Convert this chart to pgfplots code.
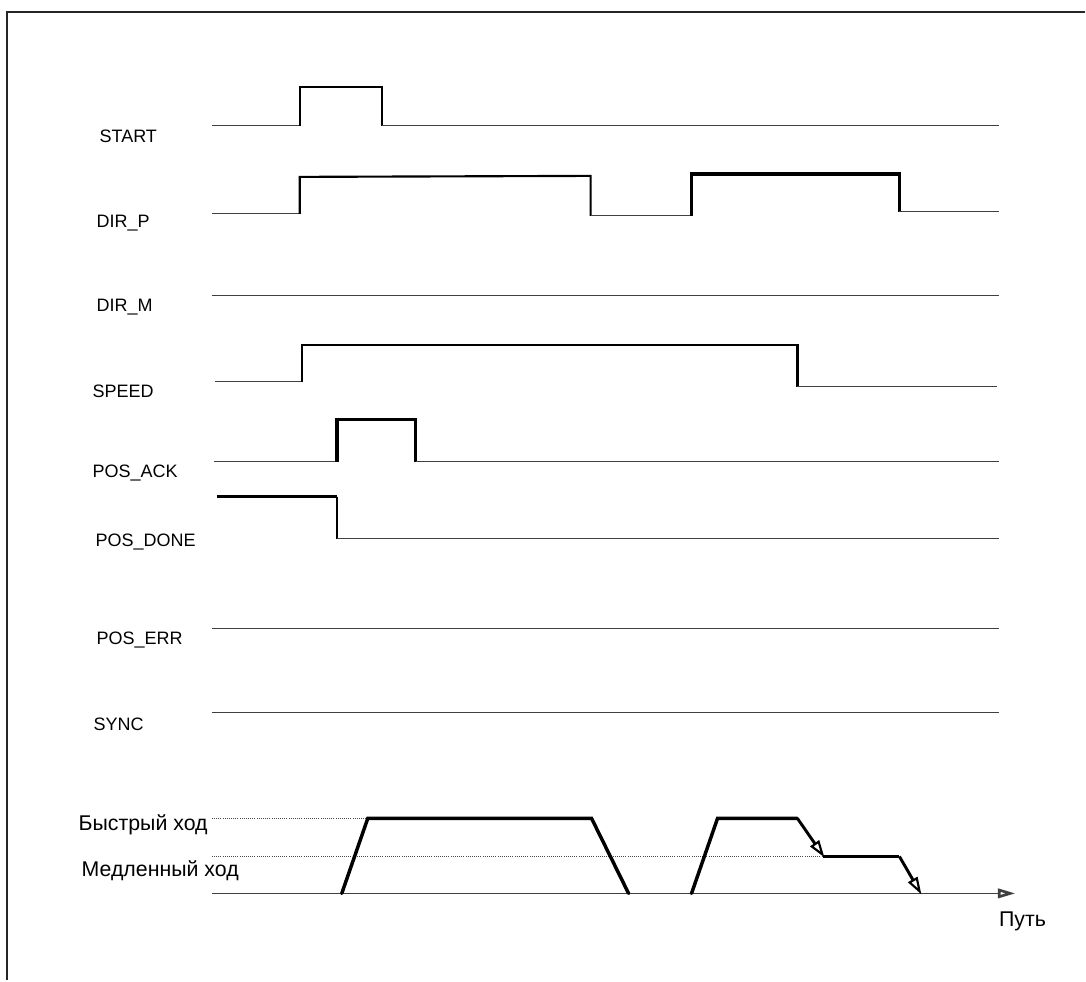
\documentclass[border=0pt]{standalone}
\usepackage{fontspec}
\setmainfont{Liberation Sans}
\usepackage{pgfplots}
\pgfplotsset{compat=1.18}
\usetikzlibrary{arrows.meta}
\tikzset{
  sig/.style={black!75, line width=0.8pt},
  sigmed/.style={black, line width=1.6pt},
  sigfat/.style={black, line width=2.6pt},
  lbl/.style={anchor=west, font=\fontsize{13.5pt}{16pt}\selectfont},
  lblbig/.style={anchor=west, font=\fontsize{16pt}{19pt}\selectfont},
}
\begin{document}
\begin{tikzpicture}
\begin{axis}[
    hide axis,
    scale only axis,
    width=814.5pt, height=735.75pt,
    xmin=0, xmax=1086, ymin=0, ymax=981,
    y dir=reverse,
    clip=false,
  ]
  \path (rel axis cs:0,0) rectangle (rel axis cs:1,1);
  % frame
  \addplot[black!85, line width=1.1pt] coordinates {(1086,12) (7,12) (7,981)};

  % START
  \addplot[sig] coordinates {(212,126) (300,126)};
  \addplot[sigmed] coordinates {(300,126) (300,87) (382,87) (382,126)};
  \addplot[sig] coordinates {(382,126) (1000,126)};
  % DIR_P
  \addplot[sig] coordinates {(212,214) (300,214)};
  \addplot[sigmed] coordinates {(300,214) (300,177) (591,176) (591,216)};
  \addplot[sig] coordinates {(591,216) (692,216)};
  \addplot[sigfat] coordinates {(692,216) (692,174) (900,174) (900,212)};
  \addplot[sig] coordinates {(900,212) (1000,212)};
  % DIR_M
  \addplot[sig] coordinates {(212,296) (1000,296)};
  % SPEED
  \addplot[sig] coordinates {(215,382) (302,382)};
  \addplot[sigmed] coordinates {(302,382) (302,345) (798,345) (798,387)};
  \addplot[sig] coordinates {(798,387) (998,387)};
  % POS_ACK
  \addplot[sig] coordinates {(214,462) (337,462)};
  \addplot[sigfat] coordinates {(337,462) (337,420) (416,420) (416,462)};
  \addplot[sig] coordinates {(416,462) (1000,462)};
  % POS_DONE
  \addplot[sigfat] coordinates {(217,497) (337,497)};
  \addplot[sigmed] coordinates {(337,497) (337,539)};
  \addplot[sig] coordinates {(337,539) (1000,539)};
  % POS_ERR, SYNC
  \addplot[sig] coordinates {(212,629) (1000,629)};
  \addplot[sig] coordinates {(212,713) (1000,713)};

  % speed profile
  \addplot[black!70, line width=0.6pt, densely dotted] coordinates {(212,819) (368,819)};
  \addplot[black!70, line width=0.6pt, densely dotted] coordinates {(212,857) (824,857)};
  \addplot[sig, -{Triangle[open, length=13pt, width=7pt, line width=2pt]}] coordinates {(212,894) (1016,894)};
  \addplot[sigfat, line cap=round] coordinates {(342,894) (368,819) (592,819) (629,894)};
  \addplot[sigfat, line cap=round] coordinates {(692,894) (718,819) (798,819)};
  \addplot[black, line width=2.2pt, -{Triangle[open, length=13pt, width=8pt, line width=1.6pt]}] coordinates {(798,819) (825,858)};
  \addplot[sigfat] coordinates {(824,857) (900,857)};
  \addplot[black, line width=2.2pt, -{Triangle[open, length=13pt, width=8pt, line width=1.6pt]}] coordinates {(900,857) (922,895)};

  % labels
  \node[lbl] at (axis cs:95,136) {START};
  \node[lbl] at (axis cs:92,223) {DIR\_P};
  \node[lbl] at (axis cs:92,307) {DIR\_M};
  \node[lbl] at (axis cs:88,392) {SPEED};
  \node[lbl] at (axis cs:88,473) {POS\_ACK};
  \node[lbl] at (axis cs:91,542) {POS\_DONE};
  \node[lbl] at (axis cs:92,640) {POS\_ERR};
  \node[lbl] at (axis cs:89,725) {SYNC};
  \node[lblbig] at (axis cs:74,825) {Быстрый ход};
  \node[lblbig] at (axis cs:77,871) {Медленный ход};
  \node[lblbig] at (axis cs:995,922) {Путь};
\end{axis}
\end{tikzpicture}
\end{document}
